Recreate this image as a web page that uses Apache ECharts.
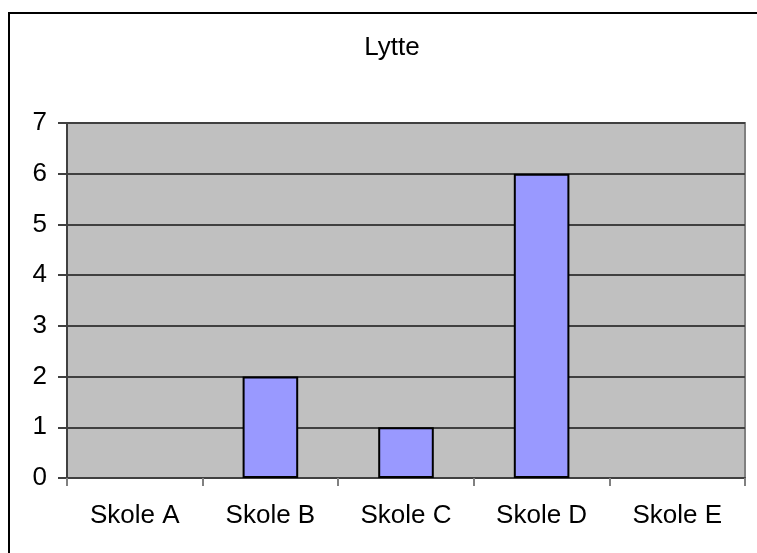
<!DOCTYPE html>
<html>
<head>
<meta charset="utf-8">
<script src="https://cdn.jsdelivr.net/npm/echarts@6/dist/echarts.min.js"></script>
<style>
    html, body { margin: 0; padding: 0; background: #fff; }
    #main { width: 757px; height: 553px; }
</style>
</head>
<body>
<div id="main"></div>
<script>
    // data
    var categories = ['Skole A', 'Skole B', 'Skole C', 'Skole D', 'Skole E'];
    var values = [0, 2, 1, 6, 0];
    var chartTitle = 'Lytte';

    var font = 'Liberation Sans, Arial, sans-serif';
    var myChart = echarts.init(document.getElementById('main'));

    // zero bars get no outline, so nothing is drawn for them
    var barData = values.map(function (v) {
        return v === 0 ? { value: v, itemStyle: { borderWidth: 0 } } : v;
    });

    var option = {
        backgroundColor: '#fff',
        animation: false,
        title: {
            text: chartTitle,
            left: 387,
            top: 30,
            textAlign: 'center',
            textStyle: { fontFamily: font, fontSize: 26, fontWeight: 'normal', color: '#000' }
        },
        // outer chart frame (cut off on right and bottom in the reference)
        graphic: [{
            type: 'rect',
            shape: { x: 9, y: 13, width: 820, height: 620 },
            style: { fill: 'none', stroke: '#000', lineWidth: 2 },
            silent: true
        }],
        grid: {
            left: 67,
            right: 12,
            top: 123,
            bottom: 75,
            show: true,
            backgroundColor: '#C0C0C0',
            borderColor: '#808080',
            borderWidth: 2
        },
        xAxis: {
            type: 'category',
            data: categories,
            axisLine: { show: true, lineStyle: { color: '#404040', width: 2 } },
            axisTick: { show: true, length: 8, lineStyle: { color: '#808080', width: 2 } },
            axisLabel: { color: '#000', fontFamily: font, fontSize: 26, margin: 25 }
        },
        yAxis: {
            type: 'value',
            min: 0,
            max: 7,
            interval: 1,
            axisLine: { show: true, lineStyle: { color: '#404040', width: 2 } },
            axisTick: { show: true, length: 9, lineStyle: { color: '#404040', width: 2 } },
            axisLabel: { color: '#000', fontFamily: font, fontSize: 26, margin: 20 },
            splitLine: { show: true, lineStyle: { color: '#404040', width: 2 } }
        },
        series: [{
            type: 'bar',
            data: barData,
            barWidth: '41%',
            itemStyle: { color: '#9999FF', borderColor: '#000', borderWidth: 2 }
        }]
    };
    myChart.setOption(option);
</script>
</body>
</html>
